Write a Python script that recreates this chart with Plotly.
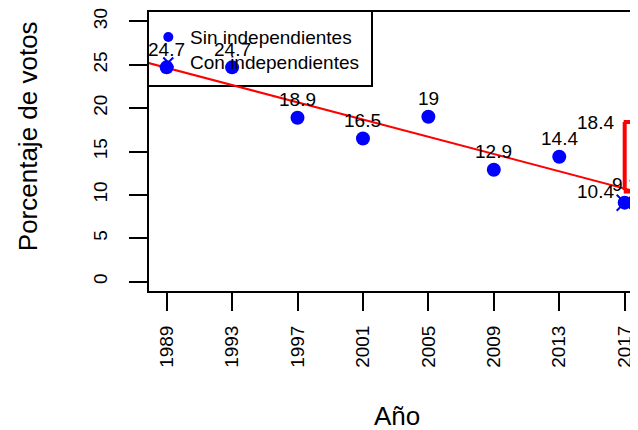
import numpy as np
import plotly.graph_objects as go

# ---- data ----
anios = [1989, 1993, 1997, 2001, 2005, 2009, 2013, 2017]
sin_independientes = [24.7, 24.7, 18.9, 16.5, 19, 12.9, 14.4, 9.1]
con_independientes = [24.7, 24.7, 18.9, 16.5, 19, 12.9, 14.4, 10.4]
anio_marca_x = [2017]
valor_marca_x = [9.1]
rango_2017 = [10.4, 18.4]
ticks_y = [0, 5, 10, 15, 20, 25, 30]
etiquetas_x = [str(a) for a in anios]
leyenda = ["Sin independientes", "Con independientes"]

FONT = "Liberation Sans, Arial, sans-serif"
x_range = [1987.86, 2018.12]
y_range = [-1.2, 31.2]

# geometry: the page body adds an 8px offset, so layout is shifted back by it
OFF = 8
W, H = 638, 430
ML, MR, MT, MB = 148 - OFF, 3, 11 - OFF, H - (292 - OFF)
PW, PH = W - ML - MR, H - MT - MB


def px_x(p):
    """page pixel x -> paper coordinate"""
    return (p - OFF - ML) / PW


def px_y(p):
    """page pixel y -> paper coordinate"""
    return (H - MB - (p - OFF)) / PH


fig = go.Figure()

# regression line (fit over the data), spanning the plot like abline
pend, inter = np.polyfit(anios, con_independientes, 1)
xr = np.array([x_range[0] - 1, x_range[1] + 1])
fig.add_trace(go.Scatter(x=xr, y=inter + pend * xr, mode="lines",
                         line=dict(color="red", width=2), showlegend=False,
                         hoverinfo="skip"))

# points
fig.add_trace(go.Scatter(x=anios, y=sin_independientes, mode="markers",
                         marker=dict(color="blue", size=14, symbol="circle"),
                         name=leyenda[0], showlegend=False))
fig.add_trace(go.Scatter(x=anio_marca_x, y=valor_marca_x, mode="markers",
                         marker=dict(color="blue", size=16, symbol="x-thin-open",
                                     line=dict(color="blue", width=2)),
                         name=leyenda[1], showlegend=False))

annotations = []
shapes = []

# ---- manual legend (R style, top-left) ----
shapes.append(dict(type="rect", xref="paper", yref="paper", x0=0, x1=px_x(372),
                   y0=px_y(86), y1=1, line=dict(color="black", width=2), layer="below"))
row_y = [px_y(37), px_y(62.5)]
sym_x = px_x(168.3)
shapes.append(dict(type="circle", xref="paper", yref="paper", xsizemode="pixel", ysizemode="pixel",
                   xanchor=sym_x, yanchor=row_y[0], x0=-5, x1=5, y0=-5, y1=5,
                   fillcolor="blue", line=dict(width=0), layer="below"))
for dx0, dy0, dx1, dy1 in [(-5, -5, 5, 5), (-5, 5, 5, -5)]:
    shapes.append(dict(type="line", xref="paper", yref="paper", xsizemode="pixel", ysizemode="pixel",
                       xanchor=sym_x, yanchor=row_y[1], x0=dx0, x1=dx1, y0=dy0, y1=dy1,
                       line=dict(color="blue", width=2), layer="below"))
for t, yy in zip(leyenda, row_y):
    annotations.append(dict(x=px_x(187.5), y=yy, xref="paper", yref="paper", text=t,
                            xanchor="left", yanchor="middle", showarrow=False,
                            font=dict(size=19, color="black", family=FONT)))

# value labels above points
for a, v in zip(anios, sin_independientes):
    annotations.append(dict(x=a, y=v, xref="x", yref="y", text=f"{v:g}",
                            xanchor="center", yanchor="middle",
                            showarrow=False, yshift=18, font=dict(size=19, color="black", family=FONT)))
# labels to the left at 2017
for v in rango_2017:
    annotations.append(dict(x=anios[-1], y=v, xref="x", yref="y", text=f"{v:g}",
                            showarrow=False, xanchor="right", yanchor="middle", xshift=-9,
                            font=dict(size=19, color="black", family=FONT)))
# bracket (drawn after labels so it covers them)
lo, hi = rango_2017
arrow_common = dict(xref="x", yref="y", axref="x", ayref="y", text=".", showarrow=True,
                    arrowhead=0, arrowwidth=4, arrowcolor="red", standoff=0,
                    startstandoff=0, font=dict(size=2, color="rgba(0,0,0,0)"), borderpad=0)
x_end = x_range[1] - 0.001
annotations.append(dict(x=anios[-1], y=hi, ax=anios[-1], ay=lo, **arrow_common))
annotations.append(dict(x=x_end, y=hi, ax=anios[-1] - 0.12, ay=hi, **arrow_common))
annotations.append(dict(x=x_end, y=lo, ax=anios[-1] - 0.12, ay=lo, **arrow_common))

# axis titles
annotations.append(dict(x=px_x(27.5), y=px_y(136.7), xref="paper", yref="paper", text="Porcentaje de votos",
                        xanchor="center", yanchor="middle",
                        textangle=-90, showarrow=False, font=dict(size=26, color="black", family=FONT)))
annotations.append(dict(x=px_x(396.7), y=px_y(416), xref="paper", yref="paper", text="Año",
                        xanchor="center", yanchor="middle",
                        showarrow=False, font=dict(size=26, color="black", family=FONT)))

# plot box (right side lies beyond the picture)
shapes.append(dict(type="rect", xref="paper", yref="paper", x0=0, x1=1, y0=0, y1=1,
                   line=dict(color="black", width=2), layer="above"))

fig.update_layout(
    width=W, height=H,
    margin=dict(l=ML, r=MR, t=MT, b=MB, pad=0, autoexpand=False),
    paper_bgcolor="white", plot_bgcolor="white",
    font=dict(family=FONT, size=19, color="black"),
    showlegend=False,
    annotations=annotations,
    shapes=shapes,
)
fig.update_xaxes(range=x_range, tickmode="array", tickvals=anios, ticktext=etiquetas_x,
                 tickangle=-90, ticks="outside", ticklen=18, tickwidth=2, tickcolor="black",
                 showgrid=False, zeroline=False, showline=False, ticklabelstandoff=7,
                 ticklabeloverflow="allow",
                 automargin=False, tickfont=dict(size=19, family=FONT, color="black"))
fig.update_yaxes(range=y_range, tickmode="array", tickvals=ticks_y,
                 tickangle=-90, ticks="outside", ticklen=18, tickwidth=2, tickcolor="black",
                 showgrid=False, zeroline=False, showline=False, ticklabelstandoff=14,
                 ticklabeloverflow="allow",
                 automargin=False, tickfont=dict(size=19, family=FONT, color="black"))

fig.write_html("out.html")
